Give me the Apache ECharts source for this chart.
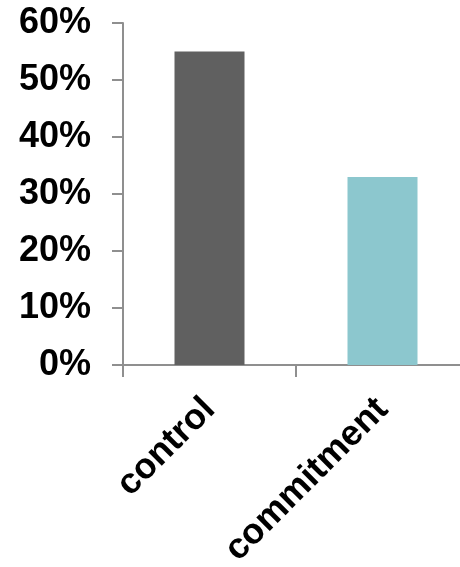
<!DOCTYPE html>
<html>
<head>
<meta charset="utf-8">
<script src="https://cdn.jsdelivr.net/npm/echarts@6/dist/echarts.min.js"></script>
<style>
  html, body { margin: 0; padding: 0; background: #fff; }
  #chart { width: 460px; height: 567px; }
</style>
</head>
<body>
<div id="chart"></div>
<script>
// Share of participants, by condition
const categories = ['control', 'commitment'];
const shares = [55, 33];
const barColors = ['#606060', '#8CC7CE'];
const yTicks = [0, 10, 20, 30, 40, 50, 60];

const axisGrey = '#8f8f8f';
const labelFont = { fontFamily: 'Liberation Sans, Arial, sans-serif', fontWeight: 'bold', fontSize: 36, color: '#000' };

const chart = echarts.init(document.getElementById('chart'), null, { renderer: 'canvas' });
chart.setOption({
  animation: false,
  // plot area runs past the right edge of the window
  grid: { left: 123, top: 23, bottom: 202, width: 346, containLabel: false, outerBoundsMode: 'none' },
  xAxis: {
    type: 'category',
    data: categories,
    axisLine: { lineStyle: { color: axisGrey, width: 2 } },
    axisTick: { show: true, length: 12, lineStyle: { color: axisGrey, width: 2 } },
    axisLabel: Object.assign({ rotate: 45, margin: 39, interval: 0 }, labelFont)
  },
  yAxis: {
    type: 'value',
    min: yTicks[0],
    max: yTicks[yTicks.length - 1],
    interval: 10,
    splitLine: { show: false },
    axisLine: { show: true, lineStyle: { color: axisGrey, width: 2 } },
    axisTick: { show: true, length: 11, lineStyle: { color: axisGrey, width: 2 } },
    axisLabel: Object.assign({ margin: 32, formatter: v => v + '%' }, labelFont)
  },
  series: [{
    type: 'bar',
    barWidth: 70,
    data: shares.map((v, i) => ({ value: v, itemStyle: { color: barColors[i] } }))
  }]
});
</script>
</body>
</html>
